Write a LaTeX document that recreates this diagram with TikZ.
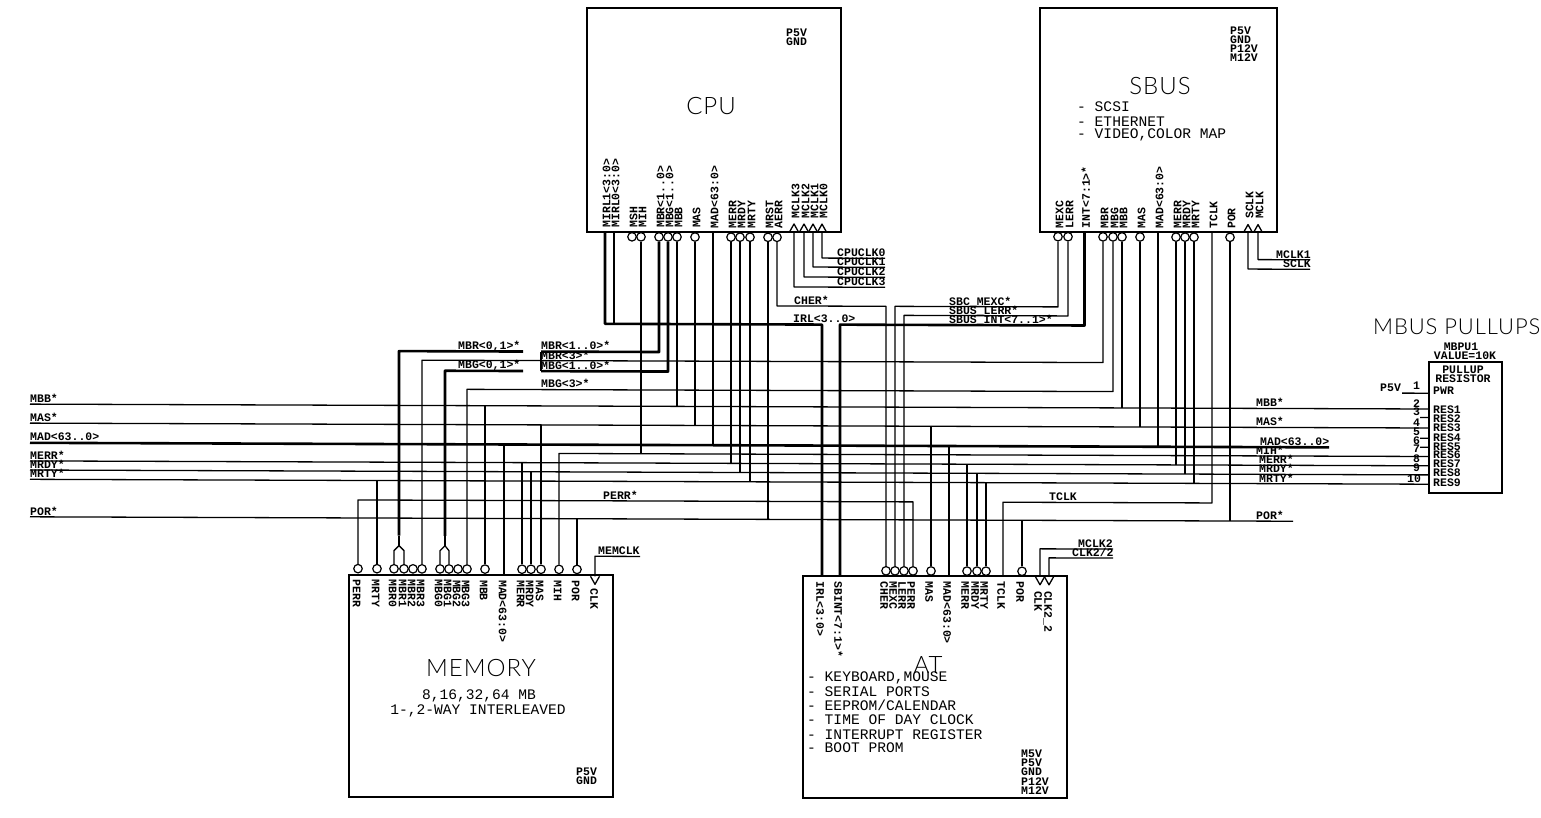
\documentclass[tikz,border=0pt]{standalone}
\usepackage{fontspec}
\setmainfont{Liberation Mono}
\newfontfamily\ttlfont{Lato}[UprightFont=* Light,LetterSpace=4]
\newcommand\smf{\fontsize{11.5}{11.5}\bfseries\selectfont}
\newcommand\mdf{\fontsize{14.6}{14.6}\selectfont}
% bubble pin, junction, labels
\newcommand\bub[3]{\node[bubble] (#1) at (#2,#3) {};}
\newcommand\jn[3]{\coordinate (#1) at (#2,#3);}
\newcommand\lab[4]{\node[lab] (#1) at (#2,#3) {#4};}
\newcommand\lst[4]{\node[listtxt] (#1) at (#2,#3) {#4};}
\newcommand\vup[4]{\node[vuptxt] (#1) at (#2,#3) {#4};}
\newcommand\vdn[4]{\node[vdntxt] (#1) at (#2,#3) {#4};}
\newcommand\triup[3]{\draw[thinw] (#2,#3) ++(-4.5,0) -- ++(4.5,-8) -- ++(4.5,8); \coordinate (#1) at (#2,#3);}
\newcommand\tridn[3]{\draw[thinw] (#2,#3) ++(-4.5,0) -- ++(4.5,8) -- ++(4.5,-8); \coordinate (#1) at (#2,#3);}
\tikzset{
 thinw/.style={line width=1.3pt,line join=round,black},
 thickw/.style={line width=2.6pt,line join=round,black},
 blockbox/.style={draw,line width=2.1pt,inner sep=0pt},
 bubble/.style={circle,draw,line width=1.2pt,minimum size=8.5pt,inner sep=0pt,black},
 lab/.style={anchor=base west,inner sep=0pt,font=\smf},
 listtxt/.style={anchor=west,inner sep=0pt,font=\mdf},
 vuptxt/.style={rotate=90,anchor=west,inner sep=0pt,font=\smf,text height=7.5pt,text depth=0pt},
 vdntxt/.style={rotate=-90,anchor=west,inner sep=0pt,font=\smf,text height=7.5pt,text depth=0pt},
 ttl/.style={inner sep=0pt,font=\ttlfont\fontsize{24}{24}\selectfont},
}
\begin{document}
\begin{tikzpicture}[x={(1pt,-0.0035pt)},y={(0pt,-1pt)},shift={(0pt,2.8pt)}]
\useasboundingbox (0pt,-2.8pt) rectangle (1541pt,-819.8pt);
\fill[white] (0pt,-2.8pt) rectangle (1541pt,-819.8pt);
% ---- blocks
\node[blockbox,minimum width=254pt,minimum height=224pt] (cpu) at (714,120.3) {};
\node[blockbox,minimum width=237pt,minimum height=224pt] (sbus) at (1158.5,118.75) {};
\node[blockbox,minimum width=264pt,minimum height=222pt] (mem) at (481,687.1) {};
\node[blockbox,minimum width=264pt,minimum height=222pt] (at) at (935,686.5) {};
\node[draw,line width=1.5pt,inner sep=0pt,minimum width=73pt,minimum height=131pt] (pu) at (1465.5,425.2) {};
% ---- titles
\node[ttl] (tcpu) at (711,106.5) {CPU};
\node[ttl] (tsbus) at (1160,85) {SBUS};
\node[ttl] (tmem) at (481,669) {MEMORY};
\node[ttl] (tat) at (928,665) {AT};
\node[ttl,anchor=west,font=\ttlfont\fontsize{22}{22}\selectfont] (tpu) at (1373,325) {MBUS PULLUPS};
% ---- block notes
\lab{n1}{786}{37}{P5V}\lab{n2}{786}{46}{GND}
\lab{n3}{1230}{33}{P5V}\lab{n4}{1230}{42}{GND}\lab{n5}{1230}{51}{P12V}\lab{n6}{1230}{60}{M12V}
\lab{n7}{576}{776}{P5V}\lab{n8}{576}{785}{GND}
\lab{n9}{1021}{757}{M5V}\lab{n10}{1021}{766}{P5V}\lab{n11}{1021}{775}{GND}\lab{n12}{1021}{785}{P12V}\lab{n13}{1021}{794}{M12V}
\lst{s1}{1077}{106}{- SCSI}
\lst{s2}{1077}{121}{- ETHERNET}
\lst{s3}{1077}{134}{- VIDEO,COLOR MAP}
\node[inner sep=0pt,font=\mdf] (m1) at (479,697) {8,16,32,64 MB};
\node[inner sep=0pt,font=\mdf] (m2) at (478,712) {1-,2-WAY INTERLEAVED};
\lst{a1}{807}{677.5}{- KEYBOARD,MOUSE}
\lst{a2}{807}{691.5}{- SERIAL PORTS}
\lst{a3}{807}{705.5}{- EEPROM/CALENDAR}
\lst{a4}{807}{719.5}{- TIME OF DAY CLOCK}
\lst{a5}{807}{734.5}{- INTERRUPT REGISTER}
\lst{a6}{807}{747.5}{- BOOT PROM}
% ---- CPU pins
\foreach \n/\x in {cMSH/632,cMIH/641,cMBR/659,cMBG/668,cMBB/677,cMAS/695,cMERR/731,cMRDY/740,cMRTY/750,cMRST/768,cAERR/777}{\bub{\n}{\x}{237.4}}
\foreach \n/\x/\t in {a/605/MIRL1<3:0>,b/614/MIRL0<3:0>,c/632/MSH,d/641/MIH,e/659/MBR<1..0>,f/668/MBG<1..0>,g/677/MBB,h/695/MAS,i/713/MAD<63:0>,j/731/MERR,k/740/MRDY,l/750/MRTY,m/768/MRST,n/777/AERR}{\vup{cl\n}{\x+1.5}{228.5}{\t}}
\foreach \n/\x/\t in {a/794/MCLK3,b/804/MCLK2,c/813/MCLK1,d/822/MCLK0}{\vup{ck\n}{\x+1.5}{218.5}{\t}}
\triup{cCK3}{794}{232}\triup{cCK2}{804}{232}\triup{cCK1}{813}{232}\triup{cCK0}{822}{232}
\jn{cMI1}{605}{232}\jn{cMI0}{614}{232}\jn{cMAD}{713}{232}
% ---- SBUS pins
\foreach \n/\x in {sMEXC/1058,sLERR/1068,sMBR/1103,sMBG/1113,sMBB/1122,sMAS/1140,sMERR/1176,sMRDY/1185,sMRTY/1194,sPOR/1230}{\bub{\n}{\x}{235.8}}
\foreach \n/\x/\t in {a/1058/MEXC,b/1068/LERR,c/1084.5/INT<7:1>*,d/1103/MBR,e/1113/MBG,f/1122/MBB,g/1140/MAS,h/1158/MAD<63:0>,i/1176/MERR,j/1185/MRDY,k/1194/MRTY,l/1212/TCLK,m/1230/POR}{\vup{sl\n}{\x+1.5}{227.5}{\t}}
\vup{skA}{1249.5}{217.5}{SCLK}\vup{skB}{1259.5}{217.5}{MCLK}
\triup{sCK1}{1248}{231}\triup{sCK2}{1258}{231}
\jn{sINT}{1084.5}{231}\jn{sMAD}{1158}{231}\jn{sTCLK}{1212}{231}
% ---- MEMORY pins
\foreach \n/\x in {mPERR/358,mMRTY/377,mBR0/394,mBR1/404,mBR2/413,mBR3/422,mBG0/440,mBG1/449,mBG2/458,mBG3/467,mMBB/485,mMERR/522,mMRDY/531,mMAS/541,mMIH/559,mPOR/577}{\bub{\n}{\x}{570.2}}
\foreach \n/\x/\t in {a/358/PERR,b/377/MRTY,c/394/MBR0,d/404/MBR1,e/413/MBR2,f/422/MBR3,g/440/MBG0,h/449/MBG1,i/458/MBG2,j/467/MBG3,k/485/MBB,l/504/MAD<63:0>,m/522/MERR,n/531/MRDY,o/541/MAS,p/559/MIH,q/577/POR}{\vdn{ml\n}{\x-1.5}{581}{\t}}
\vdn{mlr}{594}{589}{CLK}
\tridn{mCLK}{595}{577}
\jn{mMAD}{504}{577}
% ---- AT pins
\foreach \n/\x in {aCHER/886,aMEXC/895,aLERR/904,aPERR/913,aMAS/931,aMERR/967,aMRDY/977,aMRTY/986,aPOR/1022}{\bub{\n}{\x}{570.5}}
\foreach \n/\x/\t in {a/822/IRL<3:0>,b/840/SBINT<7:1>*,c/886/CHER,d/895/MEXC,e/904/LERR,f/913/PERR,g/931/MAS,h/949/MAD<63:0>,i/967/MERR,j/977/MRDY,k/986/MRTY,l/1003/TCLK,m/1022/POR}{\vdn{al\n}{\x-2}{581}{\t}}
\vdn{alr}{1038}{590}{CLK}\vdn{als}{1048}{590}{CLK2\_2}
\tridn{aCLK}{1040}{576}\tridn{aCK2}{1049}{576}
\jn{aIRL}{822}{576}\jn{aSB}{840}{576}\jn{aMAD}{949}{576}\jn{aTCLK}{1003}{576}
% ---- junctions
\jn{iA}{605}{324.5}\jn{iB}{614}{324.5}\jn{iC}{822}{324.5}\jn{iD}{840}{324.5}\jn{iE}{1084.5}{324.5}
\jn{rA}{659}{352.5}\jn{rB}{541}{352.5}\jn{rC}{668}{372}\jn{rD}{541}{372}\jn{rE}{541}{362}
\jn{mrA}{399}{352.5}\jn{mrB}{523}{352.5}\jn{mrC}{399}{537}\jn{mrD}{399}{547}\jn{mrE}{394}{552}\jn{mrF}{404}{552}
\jn{mgA}{445}{372}\jn{mgB}{523}{372}\jn{mgC}{445}{537}\jn{mgD}{445}{547}\jn{mgE}{440}{552}\jn{mgF}{449}{552}
\jn{br3A}{422}{361.5}\jn{br3B}{1103}{361.5}
\jn{bg3A}{467}{390.5}\jn{bg3B}{1113}{390.5}
\jn{hBBl}{30}{406.8}\jn{hBBr}{1429}{406.8}\jn{hBBc}{677}{406.8}\jn{hBBs}{1122}{406.8}\jn{hBBm}{485}{406.8}
\jn{hASl}{30}{425.8}\jn{hASr}{1429}{425.8}\jn{hASc}{695}{425.8}\jn{hASs}{1140}{425.8}\jn{hASm}{541}{425.8}\jn{hASa}{931}{425.8}
\jn{hADl}{30}{445.5}\jn{hADr}{1329}{445.5}\jn{hADc}{713}{445.5}\jn{hADs}{1158}{445.5}\jn{hADm}{504}{445.5}\jn{hADa}{949}{445.5}
\jn{hIHl}{559}{454.3}\jn{hIHr}{1429}{454.3}\jn{hIHc}{641}{454.3}
\jn{hERl}{30}{463.6}\jn{hERr}{1429}{463.6}\jn{hERc}{731}{463.6}\jn{hERs}{1176}{463.6}\jn{hERm}{522}{463.6}\jn{hERa}{967}{463.6}
\jn{hDYl}{30}{472.7}\jn{hDYr}{1429}{472.7}\jn{hDYc}{740}{472.7}\jn{hDYs}{1185}{472.7}\jn{hDYm}{531}{472.7}\jn{hDYa}{977}{472.7}
\jn{hTYl}{30}{482}\jn{hTYr}{1429}{482}\jn{hTYc}{750}{482}\jn{hTYs}{1194}{482}\jn{hTYm}{377}{482}\jn{hTYa}{986}{482}
\jn{hPEl}{358}{501.5}\jn{hPEr}{913}{501.5}
\jn{hTKl}{1003}{501.5}\jn{hTKr}{1212}{501.5}
\jn{hPOl}{30}{519.5}\jn{hPOr}{1293}{519.5}\jn{hPOc}{768}{519.5}\jn{hPOs}{1230}{519.5}\jn{hPOm}{577}{519.5}\jn{hPOa}{1022}{519.5}
\jn{cmA}{777}{306}\jn{cmB}{886}{306}
\jn{exA}{895}{306}\jn{exB}{1058}{306}
\jn{leA}{904}{315}\jn{leB}{1068}{315}
\jn{ck0A}{822}{258}\jn{ck0B}{885}{258}
\jn{ck1A}{813}{267}\jn{ck1B}{885}{267}
\jn{ck2A}{804}{277}\jn{ck2B}{885}{277}
\jn{ck3A}{794}{287}\jn{ck3B}{885}{287}
\jn{skA1}{1258}{258}\jn{skA2}{1310}{258}
\jn{skB1}{1248}{267.5}\jn{skB2}{1310}{267.5}
\jn{meA}{595}{557}\jn{meB}{640}{557}
\jn{acA}{1040}{548}\jn{acB}{1113}{548}
\jn{adA}{1049}{557}\jn{adB}{1113}{557}
% pull-up stubs
\jn{p5a}{1402}{391}\jn{p5b}{1429}{391}
\jn{r2a}{1420}{415.3}\jn{r2b}{1429}{415.3}
\jn{r4a}{1420}{436}\jn{r4b}{1429}{436}
\jn{r5a}{1420}{445}\jn{r5b}{1429}{445}
% ---- thick wires
\draw[thickw] (cMI1) -- (iA) -- (iC) -- (aIRL);
\draw[thickw] (cMI0) -- (iB);
\draw[thickw] (sINT) -- (iE) -- (iD) -- (aSB);
\draw[thickw] (cMBR) -- (rA) -- (rB);
\draw[thickw] (cMBG) -- (rC) -- (rD);
\draw[thickw] (mrB) -- (mrA) -- (mrC);
\draw[thickw] (mgB) -- (mgA) -- (mgC);
\draw[thickw] (hADl) -- (hADr);
\draw[thickw] (cMAD) -- (hADc);
\draw[thickw] (sMAD) -- (hADs);
\draw[thickw] (hADm) -- (mMAD);
\draw[thickw] (hADa) -- (aMAD);
% ---- thin wires
\draw[thinw] (rB) -- (rD);
\draw[thinw] (mrC) -- (mrD);
\draw[thinw] (mBR0) -- (mrE) -- (mrD) -- (mrF) -- (mBR1);
\draw[thinw] (mgC) -- (mgD);
\draw[thinw] (mBG0) -- (mgE) -- (mgD) -- (mgF) -- (mBG1);
\draw[thinw] (mBR3) -- (br3A) -- (br3B) -- (sMBR);
\draw[thinw] (mBG3) -- (bg3A) -- (bg3B) -- (sMBG);
\draw[thinw] (hBBl) -- (hBBr); \draw[thinw] (cMBB) -- (hBBc); \draw[thinw] (sMBB) -- (hBBs); \draw[thinw] (mMBB) -- (hBBm);
\draw[thinw] (hASl) -- (hASr); \draw[thinw] (cMAS) -- (hASc); \draw[thinw] (sMAS) -- (hASs); \draw[thinw] (mMAS) -- (hASm); \draw[thinw] (aMAS) -- (hASa);
\draw[thinw] (mMIH) -- (hIHl) -- (hIHr); \draw[thinw] (cMIH) -- (hIHc);
\draw[thinw] (hERl) -- (hERr); \draw[thinw] (cMERR) -- (hERc); \draw[thinw] (sMERR) -- (hERs); \draw[thinw] (mMERR) -- (hERm); \draw[thinw] (aMERR) -- (hERa);
\draw[thinw] (hDYl) -- (hDYr); \draw[thinw] (cMRDY) -- (hDYc); \draw[thinw] (sMRDY) -- (hDYs); \draw[thinw] (mMRDY) -- (hDYm); \draw[thinw] (aMRDY) -- (hDYa);
\draw[thinw] (hTYl) -- (hTYr); \draw[thinw] (cMRTY) -- (hTYc); \draw[thinw] (sMRTY) -- (hTYs); \draw[thinw] (mMRTY) -- (hTYm); \draw[thinw] (aMRTY) -- (hTYa);
\draw[thinw] (mPERR) -- (hPEl) -- (hPEr) -- (aPERR);
\draw[thinw] (aTCLK) -- (hTKl) -- (hTKr) -- (sTCLK);
\draw[thinw] (hPOl) -- (hPOr); \draw[thinw] (cMRST) -- (hPOc); \draw[thinw] (sPOR) -- (hPOs); \draw[thinw] (mPOR) -- (hPOm); \draw[thinw] (aPOR) -- (hPOa);
\draw[thinw] (cAERR) -- (cmA) -- (cmB) -- (aCHER);
\draw[thinw] (aMEXC) -- (exA) -- (exB) -- (sMEXC);
\draw[thinw] (aLERR) -- (leA) -- (leB) -- (sLERR);
\draw[thinw] (cCK0) -- (ck0A) -- (ck0B);
\draw[thinw] (cCK1) -- (ck1A) -- (ck1B);
\draw[thinw] (cCK2) -- (ck2A) -- (ck2B);
\draw[thinw] (cCK3) -- (ck3A) -- (ck3B);
\draw[thinw] (sCK2) -- (skA1) -- (skA2);
\draw[thinw] (sCK1) -- (skB1) -- (skB2);
\draw[thinw] (mCLK) -- (meA) -- (meB);
\draw[thinw] (aCLK) -- (acA) -- (acB);
\draw[thinw] (aCK2) -- (adA) -- (adB);
\draw[thinw] (p5a) -- (p5b);
\draw[thinw] (r2a) -- (r2b); \draw[thinw] (r4a) -- (r4b); \draw[thinw] (r5a) -- (r5b);
% ---- wire labels
\lab{wa}{30}{405}{MBB*}\lab{wb}{30}{424}{MAS*}\lab{wc}{30}{443.5}{MAD<63..0>}
\lab{wd}{30}{462}{MERR*}\lab{we}{30}{471}{MRDY*}\lab{wf}{30}{480.5}{MRTY*}\lab{wg}{30}{518}{POR*}
\lab{wh}{458}{350.5}{MBR<0,1>*}\lab{wi}{458}{370}{MBG<0,1>*}
\lab{wj}{541}{350.5}{MBR<1..0>*}\lab{wk}{541}{360}{MBR<3>*}\lab{wl}{541}{370}{MBG<1..0>*}\lab{wm}{541}{388.5}{MBG<3>*}
\lab{wn}{603}{500}{PERR*}\lab{wo}{1049}{500}{TCLK}
\lab{wp}{794}{304.5}{CHER*}\lab{wq}{793}{323}{IRL<3..0>}
\lab{wr}{949}{304.5}{SBC\_MEXC*}\lab{ws}{949}{313.5}{SBUS\_LERR*}\lab{wt}{949}{323}{SBUS\_INT<7..1>*}
\lab{wu}{837}{256.5}{CPUCLK0}\lab{wv}{837}{265.5}{CPUCLK1}\lab{ww}{837}{275.5}{CPUCLK2}\lab{wx}{837}{285.5}{CPUCLK3}
\lab{wy}{1276}{256.5}{MCLK1}\lab{wz}{1283}{266}{SCLK}
\lab{xa}{598}{555.5}{MEMCLK}\lab{xb}{1078}{546.5}{MCLK2}\lab{xc}{1072}{555.5}{CLK2/2}
\lab{xd}{1256}{405}{MBB*}\lab{xe}{1256}{424}{MAS*}\lab{xf}{1260}{443.5}{MAD<63..0>}
\lab{xg}{1256}{453}{MIH*}\lab{xh}{1259}{462}{MERR*}\lab{xi}{1259}{471}{MRDY*}\lab{xj}{1259}{480.5}{MRTY*}\lab{xk}{1256}{518}{POR*}
% ---- pull-up text
\lab{pa}{1380}{389}{P5V}
\node[inner sep=0pt,font=\smf] (pb) at (1461,344) {MBPU1};
\node[inner sep=0pt,font=\smf] (pc) at (1465,353) {VALUE=10K};
\node[inner sep=0pt,font=\smf] (pd) at (1463,367) {PULLUP};
\node[inner sep=0pt,font=\smf] (pe) at (1463,376) {RESISTOR};
\lab{pf}{1433}{392}{PWR}
\foreach \n/\y/\t in {a/411/RES1,b/420/RES2,c/429/RES3,d/439/RES4,e/448/RES5,f/456/RES6,g/465/RES7,h/474/RES8,i/484/RES9}{\lab{rs\n}{1433}{\y}{\t}}
\foreach \n/\y/\t in {a/387/1,b/405/2,c/413/3,d/424/4,e/433/5,f/442/6,g/450/7,h/460/8,i/469/9}{\lab{pn\n}{1413}{\y}{\t}}
\lab{pnj}{1407}{480}{10}
\end{tikzpicture}
\end{document}
